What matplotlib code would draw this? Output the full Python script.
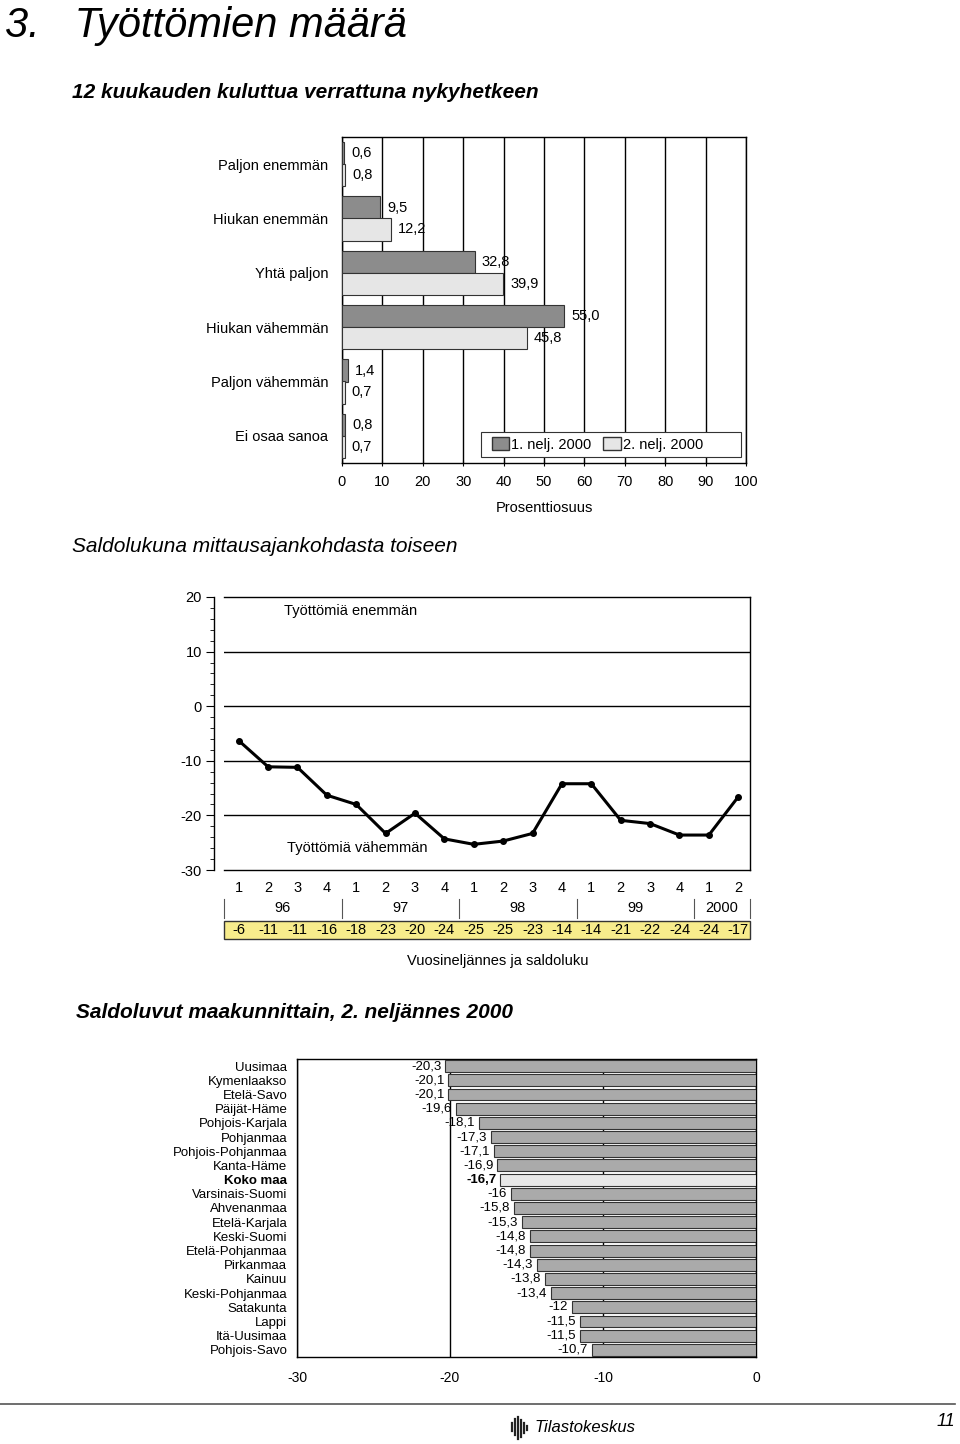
import matplotlib
matplotlib.use("Agg")
import matplotlib.pyplot as plt
from matplotlib import font_manager
from matplotlib.patches import Rectangle, Patch
from matplotlib.lines import Line2D
import matplotlib.transforms as mtransforms

# font: condensed look if available
names = {f.name for f in font_manager.fontManager.ttflist}
FONT = "Liberation Sans Narrow" if "Liberation Sans Narrow" in names else "Liberation Sans"
plt.rcParams["font.family"] = [FONT, "DejaVu Sans"]
plt.rcParams["axes.unicode_minus"] = False

# --- data: 12 months from now vs now
answers = ["Paljon enemmän", "Hiukan enemmän", "Yhtä paljon",
           "Hiukan vähemmän", "Paljon vähemmän", "Ei osaa sanoa"]
q1_2000 = [0.6, 9.5, 32.8, 55.0, 1.4, 0.8]
q2_2000 = [0.8, 12.2, 39.9, 45.8, 0.7, 0.7]
series_names = ["1. nelj. 2000", "2. nelj. 2000"]

# --- data: balance by quarter
quarters = ["1", "2", "3", "4"] * 4 + ["1", "2"]
years = ["96", "97", "98", "99", "2000"]
saldo = [-6.3, -11.1, -11.2, -16.3, -18.0, -23.3, -19.6, -24.3, -25.3,
         -24.7, -23.3, -14.2, -14.2, -20.9, -21.5, -23.6, -23.6, -16.6]
saldo_table = [-6, -11, -11, -16, -18, -23, -20, -24, -25, -25, -23, -14,
               -14, -21, -22, -24, -24, -17]

# --- data: regions, 2nd quarter 2000
regions = ["Uusimaa", "Kymenlaakso", "Etelä-Savo", "Päijät-Häme",
           "Pohjois-Karjala", "Pohjanmaa", "Pohjois-Pohjanmaa", "Kanta-Häme",
           "Koko maa", "Varsinais-Suomi", "Ahvenanmaa", "Etelä-Karjala",
           "Keski-Suomi", "Etelä-Pohjanmaa", "Pirkanmaa", "Kainuu",
           "Keski-Pohjanmaa", "Satakunta", "Lappi", "Itä-Uusimaa",
           "Pohjois-Savo"]
region_vals = [-20.3, -20.1, -20.1, -19.6, -18.1, -17.3, -17.1, -16.9,
               -16.7, -16, -15.8, -15.3, -14.8, -14.8, -14.3, -13.8, -13.4,
               -12, -11.5, -11.5, -10.7]

W, H = 960, 1444
fig = plt.figure(figsize=(W / 100, H / 100), dpi=100)


def box(l, t, r, b):
    return [l / W, 1 - b / H, (r - l) / W, (b - t) / H]


def fmt(v):
    return ("%.1f" % v).replace(".", ",")


# headings
fig.text(5 / W, 1 - 37 / H, "3.   Työttömien määrä", fontsize=30,
         style="italic", va="baseline", ha="left")
fig.text(72 / W, 1 - 93 / H, "12 kuukauden kuluttua verrattuna nykyhetkeen",
         fontsize=15, style="italic", weight="bold", va="center")
fig.text(72 / W, 1 - 547 / H, "Saldolukuna mittausajankohdasta toiseen",
         fontsize=15, style="italic", va="center")
fig.text(76 / W, 1 - 1012 / H, "Saldoluvut maakunnittain, 2. neljännes 2000",
         fontsize=15, style="italic", weight="bold", va="center")

# ---------------- chart 1: horizontal grouped bars
ax1 = fig.add_axes(box(342, 137, 746, 463))
ypos = list(range(len(answers)))
h = 0.41
ax1.barh([y - 0.2 for y in ypos], q1_2000, height=h, color="#8c8c8c",
         edgecolor="#333333", linewidth=0.8, zorder=3)
ax1.barh([y + 0.2 for y in ypos], q2_2000, height=h, color="#e6e6e6",
         edgecolor="#333333", linewidth=0.8, zorder=3)
for y, v in zip(ypos, q1_2000):
    ax1.annotate(fmt(v), (v, y - 0.2), xytext=(5, 0), textcoords="offset points",
                 va="center", ha="left", fontsize=10.5, zorder=5)
for y, v in zip(ypos, q2_2000):
    ax1.annotate(fmt(v), (v, y + 0.2), xytext=(5, 0), textcoords="offset points",
                 va="center", ha="left", fontsize=10.5, zorder=5)
ax1.set_xlim(0, 100)
ax1.set_ylim(5.5, -0.5)
ax1.set_yticks(ypos)
ax1.set_yticklabels(answers, fontsize=10.5)
ax1.set_xticks(range(0, 101, 10))
ax1.tick_params(axis="y", length=0, pad=10)
ax1.tick_params(axis="x", length=5, labelsize=10.5, pad=6, direction="inout")
ax1.grid(axis="x", color="black", linewidth=1.0, zorder=0)
for s in ax1.spines.values():
    s.set_linewidth(1.0)
ax1.set_xlabel("Prosenttiosuus", fontsize=10.5, labelpad=9)
ax1.add_patch(Rectangle((0.345, 0.018), 0.643, 0.078, transform=ax1.transAxes,
                        facecolor="white", edgecolor="#333333", linewidth=0.8,
                        zorder=6))
ax1.legend([Patch(facecolor="#8c8c8c", edgecolor="#333333"),
            Patch(facecolor="#e6e6e6", edgecolor="#333333")], series_names,
           loc="center left", bbox_to_anchor=(0.345, 0.057), ncol=2,
           frameon=False, fontsize=10.5, handlelength=1.2, handleheight=1.0,
           handletextpad=0.15, columnspacing=0.8, borderpad=0.2)
ax1.get_legend().set_zorder(7)

# ---------------- chart 2: line of balance figures
ax2 = fig.add_axes(box(224, 597, 750, 870))
xs = list(range(len(saldo)))
ax2.plot(xs, saldo, color="black", linewidth=2.2, marker="o", markersize=4,
         zorder=3)
ax2.set_xlim(-0.5, 17.4)
ax2.set_ylim(-30, 20)
ax2.set_yticks(range(-30, 21, 10))
ax2.set_yticks(range(-30, 21, 2), minor=True)
ax2.tick_params(axis="y", which="major", length=6, labelsize=10.5, pad=3)
ax2.tick_params(axis="y", which="minor", length=3)
ax2.spines["left"].set_position(("outward", 7))
ax2.set_xticks([])
for y in (10, 0, -10, -20):
    ax2.axhline(y, color="black", linewidth=1.0, zorder=1)
for s in ax2.spines.values():
    s.set_linewidth(1.0)
ax2.text(0.115, 0.95, "Työttömiä enemmän", transform=ax2.transAxes,
         fontsize=10.5, va="center")
ax2.text(0.119, 0.08, "Työttömiä vähemmän", transform=ax2.transAxes,
         fontsize=10.5, va="center")

tr = mtransforms.blended_transform_factory(ax2.transData, ax2.transAxes)
for x, q in zip(xs, quarters):
    ax2.text(x, -0.066, q, transform=tr, ha="center", va="center",
             fontsize=10.5, clip_on=False)
seps = [-0.5, 3.5, 7.5, 11.5, 15.5, 17.4]
for sx in seps:
    ax2.add_line(Line2D([sx, sx], [-0.105, -0.175], transform=tr,
                        color="#555555", linewidth=0.8, clip_on=False))
for i, yr in enumerate(years):
    cx = (seps[i] + seps[i + 1]) / 2
    ax2.text(cx, -0.14, yr, transform=tr, ha="center", va="center",
             fontsize=10.5, clip_on=False)
ax2.add_patch(Rectangle((-0.5, -0.253), 17.9, 0.066, transform=tr,
                        facecolor="#f7ec8c", edgecolor="#333333",
                        linewidth=1.0, clip_on=False))
for x, v in zip(xs, saldo_table):
    ax2.text(x, -0.22, str(v), transform=tr, ha="center", va="center",
             fontsize=10.5, clip_on=False)
ax2.text(0.52, -0.333, "Vuosineljännes ja saldoluku", transform=ax2.transAxes,
         ha="center", va="center", fontsize=10.5)

# ---------------- chart 3: regions
ax3 = fig.add_axes(box(297, 1059, 756, 1357))
rpos = list(range(len(regions)))
colors = ["#e8e8e8" if r == "Koko maa" else "#aaaaaa" for r in regions]
ax3.barh(rpos, region_vals, height=0.84, color=colors, edgecolor="#333333",
         linewidth=0.8, zorder=3)
for y, v, r in zip(rpos, region_vals, regions):
    lab = fmt(v) if v != int(v) else str(int(v))
    ax3.annotate(lab, (v, y), xytext=(-3, 0), textcoords="offset points",
                 ha="right", va="center", fontsize=9.5,
                 weight="bold" if r == "Koko maa" else "normal")
ax3.set_xlim(-30, 0)
ax3.set_ylim(20.5, -0.5)
ax3.set_xticks([-30, -20, -10, 0])
ax3.set_yticks(rpos)
ax3.set_yticklabels(regions, fontsize=9.5)
for lab in ax3.get_yticklabels():
    if lab.get_text() == "Koko maa":
        lab.set_fontweight("bold")
ax3.tick_params(axis="y", length=0, pad=7)
ax3.tick_params(axis="x", length=0, labelsize=10, pad=10)
ax3.grid(axis="x", color="black", linewidth=1.0, zorder=0)
for s in ax3.spines.values():
    s.set_linewidth(1.0)

# ---------------- footer
fig.add_artist(Line2D([0, 955 / W], [1 - 1404 / H] * 2, color="#555555",
                      linewidth=1.2))
for i, (dy0, dy1) in enumerate([(6, 14), (2, 18), (0, 22), (3, 20), (6, 16),
                                (9, 13)]):
    x = (512 + i * 3) / W
    fig.add_artist(Line2D([x, x], [1 - (1417 + dy0) / H, 1 - (1417 + dy1) / H],
                          color="#222222", linewidth=1.6))
fig.text(535 / W, 1 - 1428 / H, "Tilastokeskus", fontsize=12, style="italic",
         va="center")
fig.text(955 / W, 1 - 1422 / H, "11", fontsize=13, style="italic",
         va="center", ha="right")

fig.savefig("out.png", dpi=100)
